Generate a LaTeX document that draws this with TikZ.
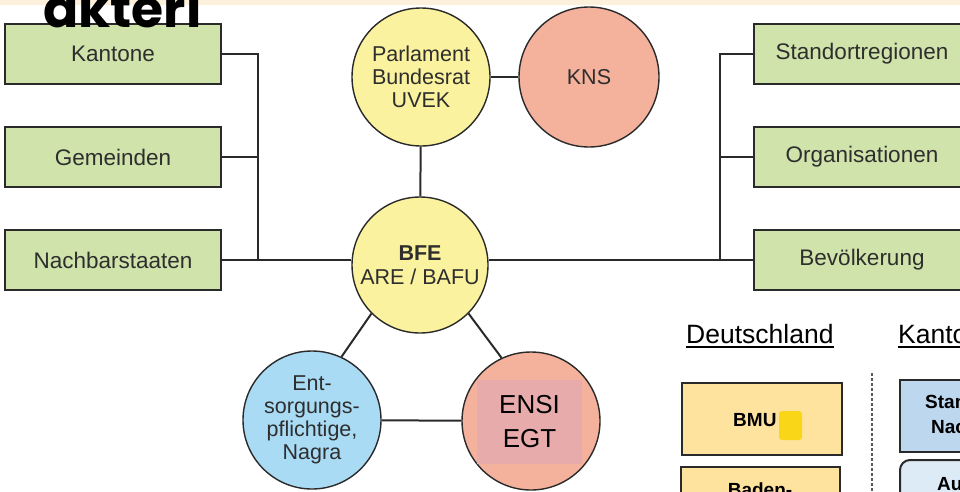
\documentclass[tikz,border=0pt]{standalone}
\usepackage{fontspec}
\setmainfont{Liberation Sans}
\newfontfamily\poppins{Poppins}
\definecolor{dark}{HTML}{2A2A2A}
\definecolor{txt}{HTML}{2E2E2E}
\definecolor{boxgreen}{HTML}{CFE3AB}
\definecolor{cyellow}{HTML}{FAF29E}
\definecolor{csalmon}{HTML}{F4B19C}
\definecolor{cblue}{HTML}{A9DBF5}
\definecolor{overlaypink}{HTML}{E8ABAB}
\definecolor{band}{HTML}{FDF1DC}
\definecolor{deorange}{HTML}{FEE39F}
\definecolor{chblue}{HTML}{BDD7EE}
\definecolor{chlight}{HTML}{DDEBF7}
\definecolor{gold}{HTML}{F9D617}
\begin{document}
\begin{tikzpicture}[x=1pt,y=-1pt,
  gbox/.style={draw=dark, line width=2pt, fill=boxgreen, minimum width=216pt, minimum height=60pt, inner sep=0pt, text=txt, font=\fontsize{22.5}{25}\selectfont},
  circ/.style={circle, draw=dark, line width=1.4pt, minimum size=138pt, inner sep=0pt, align=center, text=txt, font=\fontsize{21.5}{23}\selectfont},
  conn/.style={draw=dark, line width=2pt},
  frag/.style={draw=dark, line width=2pt, inner sep=0pt},
  fragtext/.style={text=black, font=\fontsize{19}{22}\selectfont\bfseries, inner sep=0pt}
]
\useasboundingbox (0,0) rectangle (960,491);
\fill[band] (0,0) rectangle (960,5);

% left boxes
\node[gbox] (kant) at (113,54) {Kantone};
\node[gbox] (gem) at (113,157) {Gemeinden};
\node[gbox] (nach) at (113,260) {Nachbarstaaten};
% right boxes
\node[gbox] (stand) at (862,54) {Standortregionen};
\node[gbox] (org) at (862,157) {Organisationen};
\node[gbox] (bev) at (862,260) {Bevölkerung};

% circles
\node[circ, fill=cyellow] (parl) at (421,77) {Parlament\\Bundesrat\\UVEK};
\node[circ, fill=csalmon, minimum size=140pt] (kns) at (589,77) {KNS};
\node[circ, fill=cyellow, minimum size=136pt] (bfe) at (420,265) {\textbf{BFE}\\[1pt]ARE / BAFU};
\node[circ, fill=cblue] (ent) at (312,420) {Ent-\\sorgungs-\\pflichtige,\\Nagra};
\node[circ, fill=csalmon] (ensi) at (531,421) {};
\node[fill=overlaypink, minimum width=105pt, minimum height=84pt, inner sep=0pt, align=center, text=black, font=\fontsize{26}{34}\selectfont] (ensilabel) at (529.5,422) {ENSI\\EGT};

% connectors
\coordinate (ltop) at (258,54);
\coordinate (rtop) at (720,54);
\draw[conn] (kant.east) -- (ltop) -- (ltop |- nach.east);
\draw[conn] (gem.east) -- (gem.east -| ltop);
\draw[conn] (nach.east) -- (nach.east -| bfe.west);
\draw[conn] (stand.west) -- (rtop) -- (rtop |- bev.west);
\draw[conn] (org.west) -- (org.west -| rtop);
\draw[conn] (bev.west) -- (bev.west -| bfe.east);
\draw[conn] (parl) -- (kns);
\draw[conn] (parl) -- (bfe);
\draw[conn] (bfe.225) -- (ent.65);
\draw[conn] (bfe.315) -- (ensi.115);
\draw[conn] (ent) -- (ensi);

% overlay title fragment
\node[anchor=base west, inner sep=0pt, text=black, font=\poppins\bfseries\fontsize{52}{52}\selectfont] (akteri) at (43,27) {akteri};

% right-bottom fragment
\node[anchor=base west, inner sep=0pt, text=black, font=\fontsize{26.5}{28}\selectfont] (de) at (686,343) {Deutschland};
\draw[line width=1.6pt, black] ([yshift=-4pt]de.base west) -- ([yshift=-4pt]de.base east);
\node[anchor=base west, inner sep=0pt, text=black, font=\fontsize{26.5}{28}\selectfont] (kan) at (898,343) {Kanto};
\draw[line width=1.6pt, black] ([yshift=-4pt]kan.base west) -- ++(80,0);
\coordinate (dtop) at (872,373);
\coordinate (dbot) at (872,491);
\draw[line width=1.5pt, gray!70!black, dash pattern=on 3pt off 2pt] (dtop) -- (dbot);

\draw[frag, fill=deorange] (682,383) rectangle (842,455);
\node[fragtext, anchor=base west] (bmu) at (733,426) {BMU};
\fill[gold, rounded corners=3pt] (779,411) rectangle (802,440);
\draw[frag, fill=deorange] (681,467) rectangle (840,510);
\node[fragtext, anchor=base] (baden) at (760,496) {Baden-};

\draw[frag, fill=chblue] (900,380) rectangle (980,452);
\node[fragtext, anchor=base west] (stan) at (925,408) {Stan};
\node[fragtext, anchor=base west] (nac) at (931,433) {Nac};
\draw[frag, fill=chlight, rounded corners=10pt] (900,460) rectangle (980,520);
\node[fragtext, anchor=base west] (au) at (937,490) {Au};
\end{tikzpicture}
\end{document}
